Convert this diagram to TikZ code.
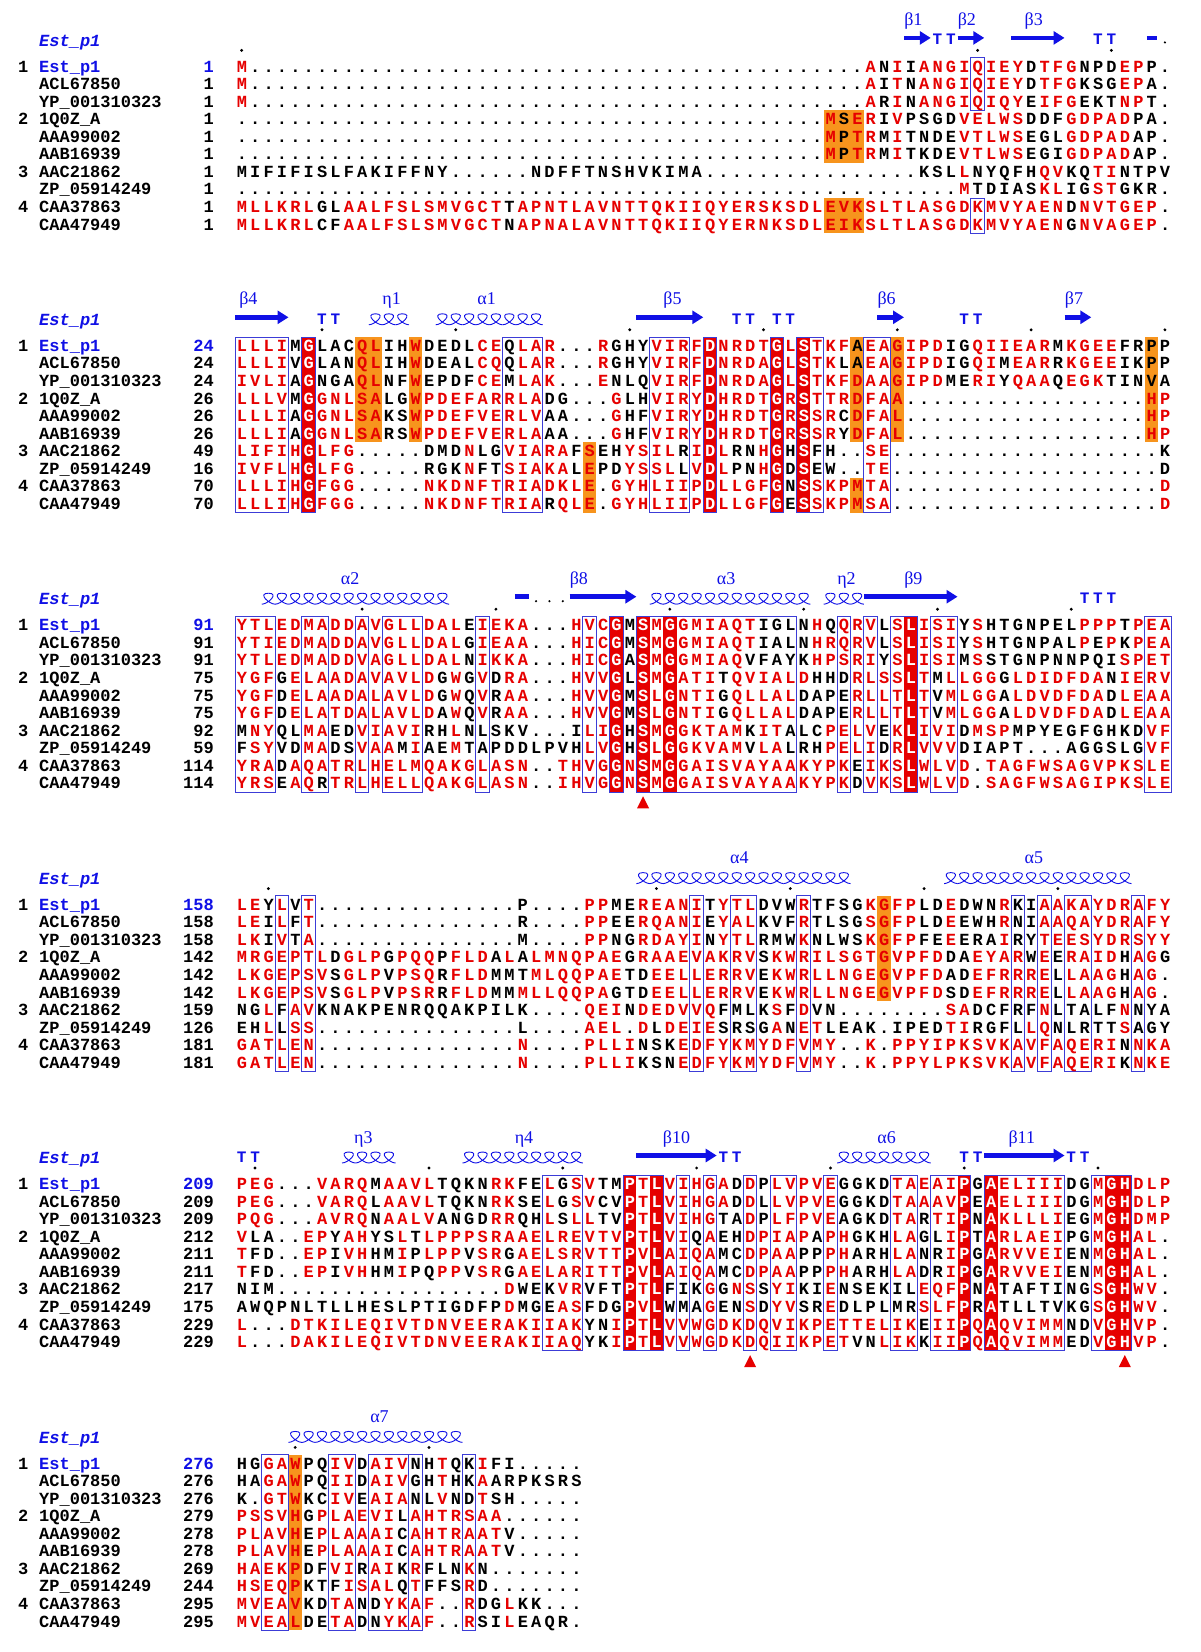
\documentclass[tikz,border=0pt]{standalone}
\usepackage{fontspec}
\setmainfont{Liberation Serif}
\setmonofont{Liberation Mono}
\usetikzlibrary{arrows.meta}
\definecolor{esred}{HTML}{E60000}
\definecolor{esorange}{HTML}{F7941D}
\definecolor{esframe}{HTML}{3C3CD7}
\definecolor{esblue}{HTML}{1010E6}

\newlength\cw \setlength\cw{13.38pt}
\newcount\colidx
\def\xz{235}\def\cwn{13.38}\def\rh{17.56}\def\bl{5.6}
\newcommand\cx[1]{\xz+\cwn*(#1)}
\def\gapd#1{\ifnum#1>0 .\expandafter\gapd\expandafter{\the\numexpr#1-1\relax}\fi}
\def\wcols{,}
% uppercase = red residue, lowercase = black residue, columns in \wcols = white on red
\makeatletter
\def\seqrow#1{\colidx=0 \edef\seq@arg{#1}\expandafter\seq@loop\seq@arg\relax}
\def\seq@loop#1{\ifx#1\relax\else\seq@char{#1}\advance\colidx by 1 \expandafter\seq@loop\fi}
\def\seq@char#1{\edef\seq@tmp{\noexpand\in@{,\the\colidx,}{\wcols}}\seq@tmp
  \ifin@\makebox[\cw][c]{\color{white}\uppercase{#1}}%
  \else\ifnum`#1>96 \makebox[\cw][c]{\uppercase{#1}}%
  \else\ifx#1.\makebox[\cw][c]{.}%
  \else\makebox[\cw][c]{\color{esred}#1}\fi\fi\fi}
\makeatother
\newcommand\srow[2]{\node[seq] (s\bk-#1) at (\xz,{\yz+(#1-1)*\rh+\bl}) {\seqrow{#2}};}
\newcommand\rowlabels[1]{%
  \node[seq, font=\ttfamily\bfseries\itshape\fontsize{17}{17}\selectfont, text=esblue] (h\bk) at (39,{\yz-26+\bl}) {Est\_p1};
  \foreach \ri/\g in {1/1,4/2,7/3,9/4} \node[seq] (g\bk-\ri) at (18,{\yz+(\ri-1)*\rh+\bl}) {\g};
  \foreach \n [count=\ri] in {{\color{esblue}Est\_p1},ACL67850,YP\_001310323,1Q0Z\_A,AAA99002,AAB16939,AAC21862,ZP\_05914249,CAA37863,CAA47949}
    \node[seq] (n\bk-\ri) at (39,{\yz+(\ri-1)*\rh+\bl}) {\n};
  \foreach \n [count=\ri] in {#1} \node[num] (p\bk-\ri) at (214,{\yz+(\ri-1)*\rh+\bl}) {\n};}
% one helix loop per residue column
\newcommand\helix[2]{\foreach \hc in {#1,...,#2}
  \draw[hx] ({\cx{\hc}},{\yz-21}) .. controls +(6,0) and +(11.3,0) .. ({\cx{\hc+0.5}},{\yz-32})
    .. controls +(-11.3,0) and +(-6,0) .. ({\cx{\hc+1}},{\yz-21});}

\begin{document}
\begin{tikzpicture}[x=1pt, y=-1pt,
  seq/.style={anchor=base west, inner sep=0pt, font=\ttfamily\bfseries\fontsize{17}{17}\selectfont},
  num/.style={seq, anchor=base east},
  sst/.style={esblue, line width=4.5pt, -{Triangle[length=11pt,width=13pt]}},
  bar/.style={esblue, line width=4.5pt},
  hx/.style={esblue, line width=0.9pt},
  lbl/.style={anchor=base, inner sep=0pt, text=esblue, font=\fontsize{18}{18}\selectfont},
  turn/.style={anchor=base, inner sep=0pt, text=esblue, font=\ttfamily\bfseries\fontsize{16}{16}\selectfont},
  frm/.style={draw=esframe, line width=1pt}]
\useasboundingbox (0,0) rectangle (1200,1652);
\fill[white] (0,0) rectangle (1200,1652);

% ---------------- block 1
\def\bk{1}\def\yz{66.4}\def\wcols{,}
\foreach \ca/\cb/\ra/\rb in {44/46/4/6,44/46/9/10}
  \fill[esorange] ({\cx{\ca}},{\yz+(\ra-1.5)*\rh}) rectangle ({\cx{\cb+1}},{\yz+(\rb-0.5)*\rh});
\foreach \ca/\cb/\ra/\rb in {55/55/1/3,55/55/9/10}
  \draw[frm] ({\cx{\ca}},{\yz+(\ra-1.5)*\rh}) rectangle ({\cx{\cb+1}},{\yz+(\rb-0.5)*\rh});
\srow{1}{M\gapd{46}AnIiANGIQIEYdTFGnpdEPp.}
\srow{2}{M\gapd{46}AiTnANGIQIEYdTFGksgEPa.}
\srow{3}{M\gapd{46}ArInANGIQIQYeIFGektNPt.}
\srow{4}{\gapd{44}MsERiVpsgdVELWSddfGDPADpa.}
\srow{5}{\gapd{44}MpTRmItndeVTLWSeglGDPADap.}
\srow{6}{\gapd{44}MpTRmItkdeVTLWSegiGDPADap.}
\srow{7}{mififislfakiffny......ndfftnshvkima\gapd{16}kslLnyqfhQVkqTIntpv}
\srow{8}{\gapd{54}MtdiasKLigSTgkr.}
\srow{9}{MLLKRLglAALFSLSMVGCTtAPNTLAVNTTQKIIQYERSKSDLEVKSLTLASGDKMVYAENdNVTGEP.}
\srow{10}{MLLKRLcfAALFSLSMVGCTnAPNALAVNTTQKIIQYERNKSDLEIKSLTLASGDKMVYAENgNVAGEP.}
\rowlabels{{\color{esblue}1},1,1,1,1,1,1,1,1,1}
\foreach \cc in {0,55,65} \fill ({\cx{\cc+0.5}},{\yz-16}) circle (1.6pt);
\foreach \sa/\sb in {50/51,54/55,58/61} \draw[sst] ({\cx{\sa}},{\yz-28.5}) -- ({\cx{\sb+1}},{\yz-28.5});
\foreach \cc in {52,53,64,65} \node[turn] at ({\cx{\cc+0.5}},{\yz-21.7}) {T};
\draw[bar] ({\cx{68}+2},{\yz-28.5}) -- ({\cx{69}-1},{\yz-28.5});
\fill ({\cx{69.5}},{\yz-24}) circle (1.2pt);
\foreach \p/\lb in {50.7/β1,54.7/β2,59.7/β3} \node[lbl] at ({\cx{\p}},{\yz-41}) {\lb};

% ---------------- block 2
\def\bk{2}\def\yz{345.8}\def\wcols{,5,35,40,42,}
\foreach \cc in {5,35,40,42} \fill[esred] ({\cx{\cc}},{\yz-0.5*\rh}) rectangle ({\cx{\cc+1}},{\yz+9.5*\rh});
\foreach \ca/\cb/\ra/\rb in {9/10/1/6,13/13/1/6,46/46/1/6,49/49/1/6,68/68/1/6,26/26/7/10,46/46/9/10}
  \fill[esorange] ({\cx{\ca}},{\yz+(\ra-1.5)*\rh}) rectangle ({\cx{\cb+1}},{\yz+(\rb-0.5)*\rh});
\foreach \ca/\cb in {0/3,5/5,20/22,31/33,35/35,40/40,42/43,47/48}
  \draw[frm] ({\cx{\ca}},{\yz-0.5*\rh}) rectangle ({\cx{\cb+1}},{\yz+9.5*\rh});
\srow{1}{LLLImGlacQLihWdedlCEqLAR...RghyVIRFDNRDTGLSTKFaEAGIPDigQIIEARmKGEEfrpp}
\srow{2}{LLLIvGlanQLihWdealCQqLAR...RghyVIRFDNRDAGLSTKlaEAGIPDigQImEARrKGEEikpp}
\srow{3}{IVLIaGngaQLnfWepdfCEmLAK...EnlqVIRFDNRDAGLSTKFDAAGIPDmeRIyQAAqEGKtinva}
\srow{4}{LLLVmGGNLSAlgWPDEFARRLAdg...GlhVIRYDHRDTGRSTTRDFAA\gapd{18}HP}
\srow{5}{LLLIaGGNLSAksWPDEFVERLVaa...GhfVIRYDHRDTGRSSRcDFAL\gapd{18}HP}
\srow{6}{LLLIaGGNLSArsWPDEFVERLAaa...GhfVIRYDHRDTGRSSRyDFAL\gapd{18}HP}
\srow{7}{LIFIHGLFG.....dmdNlgVIARAfSehYSILrIDLrnHGhSfh..SE\gapd{20}k}
\srow{8}{IVFLHGLFG.....rgkNftSIAKAlEpdYSSLlVDLpnHGdSew..TE\gapd{20}d}
\srow{9}{LLLIHGFGG.....NKDNFTRIADKLE.GYHLIIPDLLGFGnSSKPMTA\gapd{20}D}
\srow{10}{LLLIHGFGG.....NKDNFTRIArQLE.GYHLIIPDLLGFGeSSKPMSA\gapd{20}D}
\rowlabels{{\color{esblue}24},24,24,26,26,26,49,16,70,70}
\foreach \cc in {6,16,29,39,49,59,69} \fill ({\cx{\cc+0.5}},{\yz-16}) circle (1.6pt);
\foreach \sa/\sb in {0/3,30/34,48/49,62/63} \draw[sst] ({\cx{\sa}},{\yz-28.5}) -- ({\cx{\sb+1}},{\yz-28.5});
\helix{10}{12} \helix{15}{22}
\foreach \cc in {6,7,37,38,40,41,54,55} \node[turn] at ({\cx{\cc+0.5}},{\yz-21.7}) {T};
\foreach \p/\lb in {1.0/β4,11.7/η1,18.8/α1,32.7/β5,48.7/β6,62.7/β7} \node[lbl] at ({\cx{\p}},{\yz-41}) {\lb};

% ---------------- block 3
\def\bk{3}\def\yz{625.2}\def\wcols{,28,30,32,50,}
\foreach \cc in {28,30,32,50} \fill[esred] ({\cx{\cc}},{\yz-0.5*\rh}) rectangle ({\cx{\cc+1}},{\yz+9.5*\rh});
\foreach \ca/\cb in {0/2,5/6,9/9,11/13,18/18,26/26,28/28,30/41,45/45,47/47,49/50,52/53,68/69}
  \draw[frm] ({\cx{\ca}},{\yz-0.5*\rh}) rectangle ({\cx{\cb+1}},{\yz+9.5*\rh});
\srow{1}{YTLEDMADDAVGLLDALeIEKA...HVCGmSMGGMIAQTiglnHqQRVlSLISIyShtgnpelPPPtPEA}
\srow{2}{YTIEDMADDAVGLLDALgIEAA...HICGmSMGGMIAQTialnHRQRVlSLISIyShtgnpalPePkPEA}
\srow{3}{YTLEDMADDVAGLLDALnIKKA...HICGaSMGGMIAQvfaykHPSRIySLISImSstgnpnnpqiSPET}
\srow{4}{YGFgELAADAVAVLDgWgVdRA...HVVGlSMGATItQVIALDhhdRLSSLTmLLGGgLDIDFDAnIERV}
\srow{5}{YGFdELAADALAVLDgWqVrAA...HVVGmSLGNTIgQLLALdapeRLLTLTvMLGGaLDVDFDAdLEAA}
\srow{6}{YGFdELATDALAVLDaWqVrAA...HVVGmSLGNTIgQLLALdapeRLLTLTvMLGGaLDVDFDAdLEAA}
\srow{7}{mNYqlMAedVIAVIrhLnlskv...iLIGhSMGGKTAMkITalcPELVeKLIVIdMSPmpyegfghkdVF}
\srow{8}{fSYvdMAdsVAAmIaeMtapddlpvhLVGhSLGGKVAMvLAlrhPELIdRLVVVdiapt...aggslgVF}
\srow{9}{YRAdAQATRLHELMQAKGLASN..THVGGNSMGGAISVAYAAKYPKeIKSLWLVD.TAGFWSAGVPKSLE}
\srow{10}{YRSeAQrTRLHELLQAKGLASN..IHVGGNSMGGAISVAYAAKYPKdVKSLWLVD.SAGFWSAGIPKSLE}
\rowlabels{{\color{esblue}91},91,91,75,75,75,92,59,114,114}
\foreach \cc in {9,19,32,42,52,62} \fill ({\cx{\cc+0.5}},{\yz-16}) circle (1.6pt);
\foreach \sa/\sb in {25/29,47/53} \draw[sst] ({\cx{\sa}},{\yz-28.5}) -- ({\cx{\sb+1}},{\yz-28.5});
\helix{2}{15} \helix{31}{42} \helix{44}{46}
\draw[bar] ({\cx{21}-1},{\yz-28.5}) -- ({\cx{22}},{\yz-28.5});
\foreach \cc in {22,23,24} \fill ({\cx{\cc+0.5}},{\yz-24}) circle (1.2pt);
\foreach \cc in {63,64,65} \node[turn] at ({\cx{\cc+0.5}},{\yz-21.7}) {T};
\foreach \p/\lb in {8.6/α2,25.7/β8,36.7/α3,45.7/η2,50.7/β9} \node[lbl] at ({\cx{\p}},{\yz-41}) {\lb};
\foreach \cc in {30} \fill[esred] ({\cx{\cc+0.5}},{\yz+9*\rh+13}) -- ++(6,12) -- ++(-12,0) -- cycle;

% ---------------- block 4
\def\bk{4}\def\yz{904.6}\def\wcols{,}
\foreach \ca/\cb/\ra/\rb in {48/48/1/6}
  \fill[esorange] ({\cx{\ca}},{\yz+(\ra-1.5)*\rh}) rectangle ({\cx{\cb+1}},{\yz+(\rb-0.5)*\rh});
\foreach \ca/\cb in {3/3,5/5,34/34,37/38,42/42,58/58,60/60,62/63,67/67}
  \draw[frm] ({\cx{\ca}},{\yz-0.5*\rh}) rectangle ({\cx{\cb+1}},{\yz+9.5*\rh});
\srow{1}{LEyLvT\gapd{15}p....PPmeREANItYTLdvwRtfsgKGFPldEdwnRkiAAKAYDRAFY}
\srow{2}{LEiLfT\gapd{15}r....PPeeRQANIeYALkvfRtlsgSGFPldEewhRniAAQAYDRAFY}
\srow{3}{LKiVtA\gapd{15}m....PPngRDAYInYTLrmwKnlwsKGFPfeEeraIryTEESYDRSYY}
\srow{4}{MRGEPTLdGLPgPQQpFLDaLaLMNQPAEgRAAEVAKRVsKWRILSGTGVPFDdaEYARwEeRAIDhAGg}
\srow{5}{LKGEPSVsGLPvPSQrFLDmmtMLQQPAEtdEELLERRVeKWRLLNGEGVPFDadEFRRRElLAAGhAG.}
\srow{6}{LKGEPSVsGLPvPSRrFLDmmMLLQQPAgtdEELLERRVeKWRLLNGEGVPFDsdEFRRRElLAAGhAG.}
\srow{7}{ngLfAVknakpenrqqakpilk....QEInDEDVVQfmlkSfDvn........SAdcfrfNltalfNnya}
\srow{8}{ehLlSS\gapd{15}l....AEL.DlDEIEsrsgAnETleak.ipedTIrgflLQnlrttSagy}
\srow{9}{GATLEN\gapd{15}N....PLLInskEDFYKMYDFVMY..K.PPYIPKSVKAVFAQERInNKA}
\srow{10}{GATLEN\gapd{15}N....PLLIksnEDFYKMYDFVMY..K.PPYLPKSVKAVFAQERIkNKE}
\rowlabels{{\color{esblue}158},158,158,142,142,142,159,126,181,181}
\foreach \cc in {2,31,41,51,61} \fill ({\cx{\cc+0.5}},{\yz-16}) circle (1.6pt);
\helix{30}{45} \helix{53}{66}
\foreach \p/\lb in {37.7/α4,59.7/α5} \node[lbl] at ({\cx{\p}},{\yz-41}) {\lb};

% ---------------- block 5
\def\bk{5}\def\yz{1184.0}\def\wcols{,29,31,54,56,65,66,}
\foreach \cc in {29,31,54,56,65,66} \fill[esred] ({\cx{\cc}},{\yz-0.5*\rh}) rectangle ({\cx{\cc+1}},{\yz+9.5*\rh});
\foreach \ca/\cb in {23/25,29/31,33/33,35/35,38/38,40/41,44/44,49/50,52/54,56/61,64/66}
  \draw[frm] ({\cx{\ca}},{\yz-0.5*\rh}) rectangle ({\cx{\cb+1}},{\yz+9.5*\rh});
\srow{1}{PEG...VARQmAAVLtqknRKfeLgSVtmPTLVIHGAdDpLVPVEggkdTAEAIPgAELIIIdgMGHDLP}
\srow{2}{PEG...VARQlAAVLtqknRKseLgSVcvPTLVIHGAdDlLVPVEggkdTAAAVPeAELIIIdgMGHDLP}
\srow{3}{PQG...AVRQnAALVangdRRqhLsLLtvPTLVIHGtaDpLFPVEagkdTArTIPnAKLLLIegMGHDMP}
\srow{4}{Vla..EPyAHysLtLPPPSRAAELREVTVPTLVIqAehDPIAPaPHgkhLAglIPtARLAEIpgMGHAL.}
\srow{5}{Tfd..EPiVHhmIpLPPvSRgAELSRVTTPVLAIQAmcDPAAppPHarhLAnrIPgARVVEIenMGHAL.}
\srow{6}{Tfd..EPiVHhmIpqPPvSRgAELARITTPVLAIQAmcDPAAppPHarhLAdrIPgARVVEIenMGHAL.}
\srow{7}{nim\gapd{17}DwekVRvftPTLfikGgNSsYIkiEnsekilEQFPnAtaftingSGHWV.}
\srow{8}{awqpnltllheslptigdfpDmgeASfdgPVLwmaGenSdYVsrEdlplmrSLFPrAtlltvkgSGHWV.}
\srow{9}{L...DTKILEQIVTDNVEERAKIIAKynIPTLVVWGDKDQVIKPETTELIKeIIPQAQVIMMndVGHVP.}
\srow{10}{L...DAKILEQIVTDNVEERAKIIAQykIPTLVVWGDKDQIIKPETvnLIKkIIPQAQVIMMedVGHVP.}
\rowlabels{{\color{esblue}209},209,209,212,211,211,217,175,229,229}
\foreach \cc in {1,14,24,34,44,54,64} \fill ({\cx{\cc+0.5}},{\yz-16}) circle (1.6pt);
\foreach \sa/\sb in {30/35,56/61} \draw[sst] ({\cx{\sa}},{\yz-28.5}) -- ({\cx{\sb+1}},{\yz-28.5});
\helix{8}{11} \helix{17}{25} \helix{45}{51}
\foreach \cc in {0,1,36,37,54,55,62,63} \node[turn] at ({\cx{\cc+0.5}},{\yz-21.7}) {T};
\foreach \p/\lb in {9.6/η3,21.6/η4,33.0/β10,48.7/α6,58.8/β11} \node[lbl] at ({\cx{\p}},{\yz-41}) {\lb};
\foreach \cc in {38,66} \fill[esred] ({\cx{\cc+0.5}},{\yz+9*\rh+13}) -- ++(6,12) -- ++(-12,0) -- cycle;

% ---------------- block 6
\def\bk{6}\def\yz{1463.4}\def\wcols{,}
\foreach \ca/\cb/\ra/\rb in {4/4/1/10}
  \fill[esorange] ({\cx{\ca}},{\yz+(\ra-1.5)*\rh}) rectangle ({\cx{\cb+1}},{\yz+(\rb-0.5)*\rh});
\foreach \ca/\cb in {2/3,7/8,10/12,13/13,17/17}
  \draw[frm] ({\cx{\ca}},{\yz-0.5*\rh}) rectangle ({\cx{\cb+1}},{\yz+9.5*\rh});
\srow{1}{hgGAWpqIVdAIVnhTqkIfi.....}
\srow{2}{haGAWpqIIdAIVghThkAarpksrs}
\srow{3}{k.GTWkcIVeAIAnlVndTsh.....}
\srow{4}{PSSVHgPLAEVIlAHTRSAA......}
\srow{5}{PLAVHePLAAAIcAHTRAATv.....}
\srow{6}{PLAVHePLAAAIcAHTRAATv.....}
\srow{7}{HAEKPdfVIrAIkRflnKn.......}
\srow{8}{HSEQPktfISALqTffsRd.......}
\srow{9}{MVEAVkdTAndYKAF..RdgLkk...}
\srow{10}{MVEALdeTAdnYKAF..RsiLeaqr.}
\rowlabels{{\color{esblue}276},276,276,279,278,278,269,244,295,295}
\foreach \cc in {4,14} \fill ({\cx{\cc+0.5}},{\yz-16}) circle (1.6pt);
\helix{4}{16}
\foreach \p/\lb in {10.8/α7} \node[lbl] at ({\cx{\p}},{\yz-41}) {\lb};
\end{tikzpicture}
\end{document}
